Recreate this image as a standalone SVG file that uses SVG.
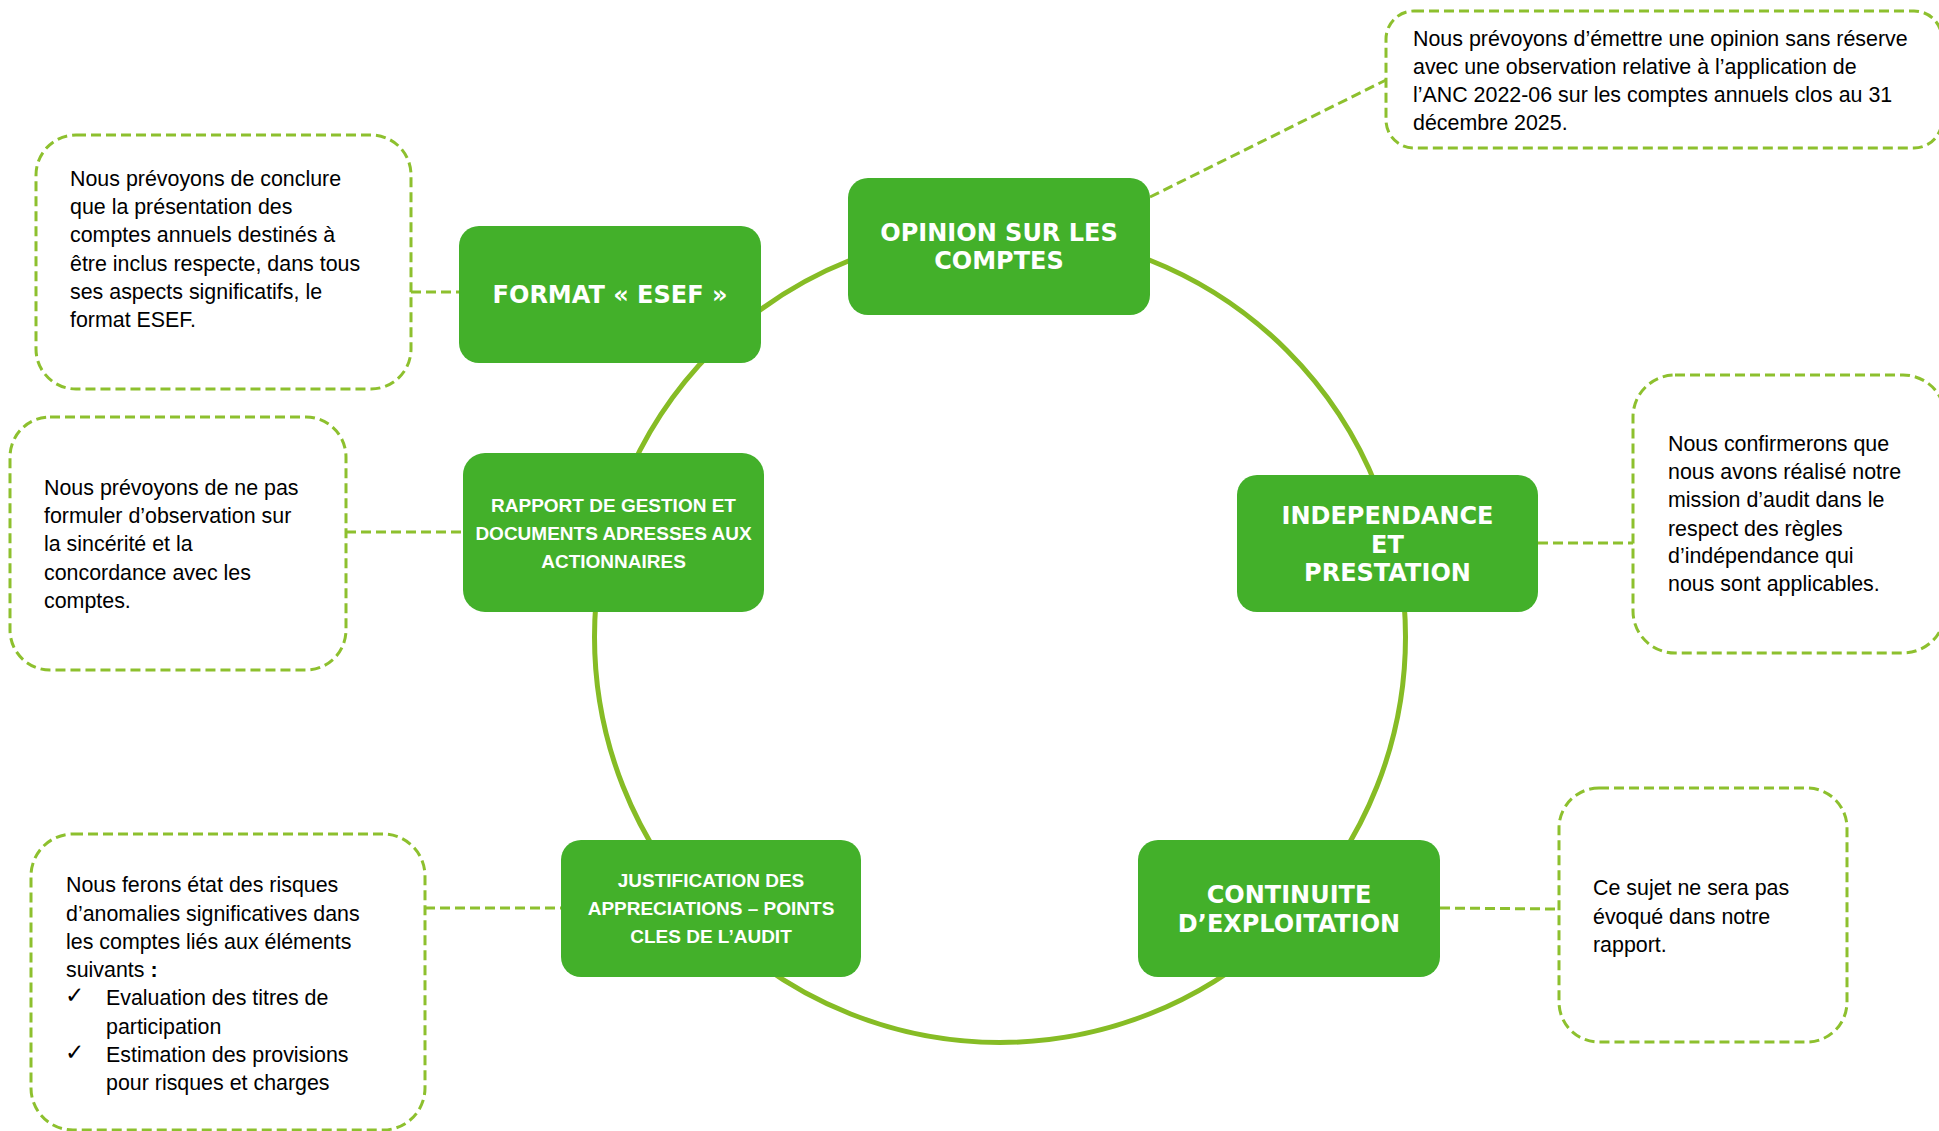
<svg xmlns="http://www.w3.org/2000/svg" width="1939" height="1131" viewBox="0 0 1939 1131">
<style>
.ring{fill:none;stroke:#86BC25;stroke-width:5}
.dash{fill:none;stroke:#8DC02E;stroke-width:3;stroke-dasharray:10 5}
.note{fill:#FFFFFF;stroke:#8DC02E;stroke-width:3;stroke-dasharray:10 5}
.box{fill:#43B02A}
.t1{font-family:"DejaVu Sans",Verdana,sans-serif;font-weight:bold;font-size:24px;fill:#FFFFFF;text-anchor:middle}
.t2{font-family:"Liberation Sans",Arial,sans-serif;font-weight:bold;font-size:19px;fill:#FFFFFF;text-anchor:middle}
.nt{font-family:"Liberation Sans",Arial,sans-serif;font-size:21.4px;fill:#000000}
.chk{font-family:"DejaVu Sans",sans-serif;font-size:23px;fill:#000000}
</style>
<rect width="1939" height="1131" fill="#FFFFFF"/>
<g id="connectors">
<circle class="ring" cx="1000" cy="637" r="405.5"/>
<line class="dash" x1="411" y1="292" x2="459" y2="292"/>
<line class="dash" x1="1150" y1="197" x2="1386" y2="80"/>
<line class="dash" x1="346" y1="532" x2="463" y2="532"/>
<line class="dash" x1="1538" y1="543" x2="1633" y2="543"/>
<line class="dash" x1="425" y1="908" x2="561" y2="908"/>
<line class="dash" x1="1440" y1="908" x2="1559" y2="909"/>
</g>
<g id="node-esef">
<rect class="box" x="459" y="226" width="302" height="137" rx="20"/>
<text class="t1" x="610" y="303">FORMAT « ESEF »</text>
</g>
<g id="node-opinion">
<rect class="box" x="848" y="178" width="302" height="137" rx="20"/>
<text class="t1" x="999" y="241">OPINION SUR LES</text>
<text class="t1" x="999" y="269">COMPTES</text>
</g>
<g id="node-rapport">
<rect class="box" x="463" y="453" width="301" height="159" rx="22"/>
<text class="t2" x="613.5" y="511.5">RAPPORT DE GESTION ET</text>
<text class="t2" x="613.5" y="539.5">DOCUMENTS ADRESSES AUX</text>
<text class="t2" x="613.5" y="567.5">ACTIONNAIRES</text>
</g>
<g id="node-independance">
<rect class="box" x="1237" y="475" width="301" height="137" rx="20"/>
<text class="t1" x="1387.5" y="524">INDEPENDANCE</text>
<text class="t1" x="1387.5" y="552.5">ET</text>
<text class="t1" x="1387.5" y="580.5">PRESTATION</text>
</g>
<g id="node-justification">
<rect class="box" x="561" y="840" width="300" height="137" rx="20"/>
<text class="t2" x="711" y="886.5">JUSTIFICATION DES</text>
<text class="t2" x="711" y="914.5">APPRECIATIONS – POINTS</text>
<text class="t2" x="711" y="942.5">CLES DE L’AUDIT</text>
</g>
<g id="node-continuite">
<rect class="box" x="1138" y="840" width="302" height="137" rx="20"/>
<text class="t1" x="1289" y="903">CONTINUITE</text>
<text class="t1" x="1289" y="931.5">D’EXPLOITATION</text>
</g>
<g id="note-esef">
<rect class="note" x="36" y="135" width="375" height="254" rx="40"/>
<text class="nt" x="70" y="185.5">Nous prévoyons de conclure</text>
<text class="nt" x="70" y="214">que la présentation des</text>
<text class="nt" x="70" y="242">comptes annuels destinés à</text>
<text class="nt" x="70" y="270.5">être inclus respecte, dans tous</text>
<text class="nt" x="70" y="299">ses aspects significatifs, le</text>
<text class="nt" x="70" y="327">format ESEF.</text>
</g>
<g id="note-opinion">
<rect class="note" x="1386" y="11" width="556" height="137" rx="28"/>
<text class="nt" x="1413" y="45.5">Nous prévoyons d’émettre une opinion sans réserve</text>
<text class="nt" x="1413" y="74">avec une observation relative à l’application de</text>
<text class="nt" x="1413" y="101.5">l’ANC 2022-06 sur les comptes annuels clos au 31</text>
<text class="nt" x="1413" y="129.5">décembre 2025.</text>
</g>
<g id="note-rapport">
<rect class="note" x="10" y="417" width="336" height="253" rx="40"/>
<text class="nt" x="44" y="495">Nous prévoyons de ne pas</text>
<text class="nt" x="44" y="523">formuler d’observation sur</text>
<text class="nt" x="44" y="551">la sincérité et la</text>
<text class="nt" x="44" y="579.5">concordance avec les</text>
<text class="nt" x="44" y="607.5">comptes.</text>
</g>
<g id="note-independance">
<rect class="note" x="1633" y="375" width="312" height="278" rx="42"/>
<text class="nt" x="1668" y="450.5">Nous confirmerons que</text>
<text class="nt" x="1668" y="479">nous avons réalisé notre</text>
<text class="nt" x="1668" y="507">mission d’audit dans le</text>
<text class="nt" x="1668" y="535.5">respect des règles</text>
<text class="nt" x="1668" y="563">d’indépendance qui</text>
<text class="nt" x="1668" y="591">nous sont applicables.</text>
</g>
<g id="note-justification">
<rect class="note" x="31" y="834" width="394" height="296" rx="42"/>
<text class="nt" x="66" y="892">Nous ferons état des risques</text>
<text class="nt" x="66" y="920.5">d’anomalies significatives dans</text>
<text class="nt" x="66" y="948.5">les comptes liés aux éléments</text>
<text class="nt" x="66" y="977">suivants <tspan font-weight="bold">:</tspan></text>
<text class="chk" x="65" y="1003">✓</text>
<text class="nt" x="106" y="1005">Evaluation des titres de</text>
<text class="nt" x="106" y="1033.5">participation</text>
<text class="chk" x="65" y="1059.5">✓</text>
<text class="nt" x="106" y="1061.5">Estimation des provisions</text>
<text class="nt" x="106" y="1089.5">pour risques et charges</text>
</g>
<g id="note-continuite">
<rect class="note" x="1559" y="788" width="288" height="254" rx="40"/>
<text class="nt" x="1593" y="895">Ce sujet ne sera pas</text>
<text class="nt" x="1593" y="923.5">évoqué dans notre</text>
<text class="nt" x="1593" y="951.5">rapport.</text>
</g>
</svg>
